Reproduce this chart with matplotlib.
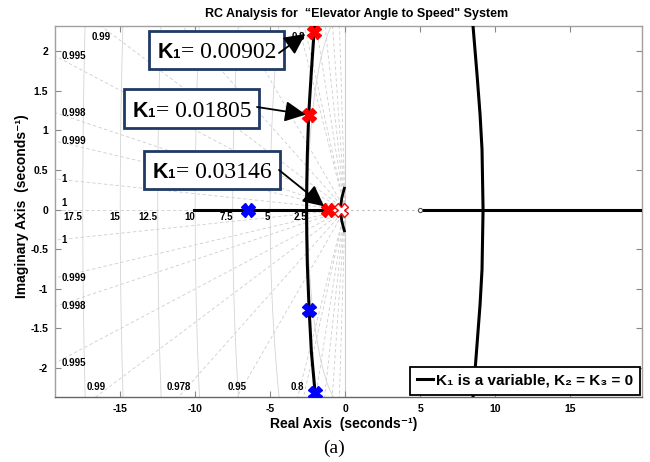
import numpy as np
import matplotlib.pyplot as plt
from matplotlib.patches import Rectangle

plt.rcParams['font.family'] = ['Liberation Sans', 'DejaVu Sans']
plt.rcParams['font.weight'] = 'bold'

# Root locus branches
left_x = [-1.85, -2.07, -2.25, -2.43, -2.52, -2.56, -2.57, -2.56, -2.52, -2.40, -2.25, -2.0, -1.85]
left_y = [2.6, 2.25, 1.75, 1.2, 0.7, 0.3, 0.0, -0.3, -0.7, -1.27, -1.8, -2.32, -2.6]
right_x = [8.4, 8.53, 8.8, 9.0, 9.13, 9.2, 9.13, 9.0, 8.8, 8.53, 8.4]
right_y = [2.6, 2.32, 1.7, 1.2, 0.76, 0.0, -0.76, -1.2, -1.7, -2.37, -2.6]
arc_x = [-0.05, -0.22, -0.32, -0.22, -0.05]
arc_y = [0.27, 0.15, 0.0, -0.15, -0.27]
real_seg1 = [-10.1, -1.1]
real_seg2 = [5.0, 21.0]
zero_x = 5.0

# K1 points (red) and closed-loop poles (blue)
red_x = [-2.07, -2.43, -1.13]
red_y = [2.25, 1.20, 0.0]
open_pole_x = -0.27
blue_x = [-6.45, -2.40, -2.0]
blue_y = [0.0, -1.27, -2.32]

# s-grid
zeta_vals = [0.16, 0.34, 0.5, 0.64, 0.76, 0.8, 0.95, 0.978, 0.99, 0.995, 0.998, 0.999, 0.9998, 1.0]
zeta_labels = ['', '', '', '', '', '0.8', '0.95', '0.978', '0.99', '0.995', '0.998', '0.999', '1', '1']
wn_vals = [2.5, 5, 7.5, 10, 12.5, 15, 17.5]
wn_labels = ['2.5', '5', '7.5', '10', '12.5', '15', '17.5']

xtick_vals = [-15, -10, -5, 0, 5, 10, 15]
xtick_labels = ['-15', '-10', '-5', '0', '5', '10', '15']
ytick_vals = [-2, -1.5, -1, -0.5, 0, 0.5, 1, 1.5, 2]
ytick_labels = ['-2', '-1.5', '-1', '-0.5', '0', '0.5', '1', '1.5', '2']

k1_text = ['= 0.00902', '= 0.01805', '= 0.03146']

W, H = 650.0, 462.0
fig = plt.figure(figsize=(6.5, 4.62), dpi=100)
ax = fig.add_axes([55 / W, 1 - 397 / H, 587 / W, 371 / H])
xmin, xmax = -19.35, 19.8
ymin, ymax = -2.37, 2.32
ax.set_xlim(xmin, xmax)
ax.set_ylim(ymin, ymax)

grid_c = '#cdcdcd'
# damping ratio lines
for z, lab in zip(zeta_vals, zeta_labels):
    slope = np.tan(np.arccos(z))
    ax.plot([0, -40], [0, 40 * slope], color=grid_c, lw=0.6, ls=(0, (4, 3)), zorder=1)
    if z < 1:
        ax.plot([0, -40], [0, -40 * slope], color=grid_c, lw=0.6, ls=(0, (4, 3)), zorder=1)
    if lab == '':
        continue
    if z == 1.0:
        ax.text(-18.9, 0.02, lab, fontsize=7, ha='left', va='bottom')
    elif abs(xmin) * slope < ymax:
        yy = abs(xmin) * slope
        ax.text(-18.9, yy, lab, fontsize=7, ha='left', va='center')
        ax.text(-18.9, -yy, lab, fontsize=7, ha='left', va='center')
    else:
        ax.text(-ymax / slope, 2.18, lab, fontsize=7, ha='center', va='center')
        ax.text(-abs(ymin) / slope, -2.24, lab, fontsize=7, ha='center', va='center')

# natural frequency circles
th = np.linspace(np.pi / 2, 3 * np.pi / 2, 400)
for wn, lab in zip(wn_vals, wn_labels):
    ax.plot(wn * np.cos(th), wn * np.sin(th), color='#d4d4d4', lw=0.6, zorder=1)
    ax.text(-wn, -0.03, lab, fontsize=7, ha='right', va='top')
ax.axvline(0, color=grid_c, lw=0.8, zorder=1)
ax.plot([0, zero_x], [0, 0], color='#bbbbbb', lw=0.8, ls=(0, (2, 3)), zorder=1)

# root locus
lc = 'black'
ax.plot(left_x, left_y, color=lc, lw=2.2, zorder=3, label='K\u2081 is a variable, K\u2082 = K\u2083 = 0')
ax.plot(right_x, right_y, color=lc, lw=2.2, zorder=3)
ax.plot(arc_x, arc_y, color=lc, lw=2.0, zorder=3)
ax.plot(real_seg1, [0, 0], color=lc, lw=2.2, zorder=3)
ax.plot(real_seg2, [0, 0], color=lc, lw=2.2, zorder=3)
ax.plot([zero_x], [0], marker='o', ms=3, mfc='white', mec='#555555', mew=0.8, zorder=4)

ax.plot(red_x, red_y, ls='none', marker='X', ms=10, color='#ff0000', mec='#ff0000', zorder=5)
ax.plot([open_pole_x], [0], ls='none', marker='X', ms=10, mfc='white', mec='#ff0000', mew=1.0, zorder=5)
ax.plot(blue_x, blue_y, ls='none', marker='X', ms=10, color='#0000ff', mec='#0000ff', zorder=5)

ax.set_xticks(xtick_vals, labels=xtick_labels)
ax.set_yticks(ytick_vals, labels=ytick_labels)
ax.tick_params(direction='in', top=True, right=True, length=4, width=0.8,
               color='#888888', labelsize=7.5, pad=5)
for s in ['top', 'right', 'left']:
    ax.spines[s].set_color('#a0a0a0')
ax.spines['bottom'].set_color('#666666')
for s in ax.spines.values():
    s.set_linewidth(1.0)

leg = ax.legend(loc='lower right', fontsize=11, handlelength=1.1, handletextpad=0.15,
                fancybox=False, framealpha=1, edgecolor='black', borderaxespad=0.15,
                borderpad=0.45)
leg.get_frame().set_linewidth(1.3)
leg.set_zorder(20)

# K1 boxes with arrows
boxes = [(149, 31, 135, 38), (124, 89, 135, 39), (144, 151, 136, 38)]
tails = [(279, 53), (257, 107), (279, 170)]
tips = [(-2.65, 2.22), (-2.62, 1.2), (-1.4, 0.04)]
navy = '#1f3a64'
for (x0, y0, w, h), txt, tail, tip in zip(boxes, k1_text, tails, tips):
    ax.add_patch(Rectangle((x0 / W, 1 - (y0 + h) / H), w / W, h / H, transform=fig.transFigure,
                           facecolor='white', edgecolor=navy, lw=2.0, clip_on=False, zorder=10))
    base = 1 - (y0 + h - 11) / H
    ax.text((x0 + 9) / W, base, 'K', transform=fig.transFigure, fontsize=15.5,
            weight='bold', va='baseline', ha='left', zorder=11)
    ax.text((x0 + 23.5) / W, base, '1', transform=fig.transFigure, fontsize=9.5,
            weight='bold', va='baseline', ha='left', zorder=11)
    ax.text((x0 + 32) / W, base, txt, transform=fig.transFigure, fontsize=17,
            family='Liberation Serif', weight='normal', va='baseline', ha='left', zorder=11)
    ax.annotate('', xy=tip, xycoords='data', xytext=(tail[0] / W, 1 - tail[1] / H),
                textcoords='figure fraction', annotation_clip=False, zorder=12,
                arrowprops=dict(arrowstyle='-|>,head_length=0.85,head_width=0.42',
                                mutation_scale=15, lw=1.3, color='black',
                                shrinkA=0, shrinkB=0))

fig.text(357 / W, 1 - 14 / H, 'RC Analysis for  \u201cElevator Angle to Speed" System',
         ha='center', va='center', fontsize=9, weight='bold')
fig.text(344 / W, 1 - 424 / H, 'Real Axis  (seconds\u207b\u00b9)', ha='center', va='center',
         fontsize=10, weight='bold')
fig.text(22 / W, 1 - 206 / H, 'Imaginary Axis  (seconds\u207b\u00b9)', ha='center', va='center',
         fontsize=10, weight='bold', rotation=90)
fig.text(334 / W, 1 - 448 / H, '(a)', ha='center', va='center', fontsize=14,
         family='Liberation Serif', weight='normal')

fig.savefig('out.png', dpi=100)
